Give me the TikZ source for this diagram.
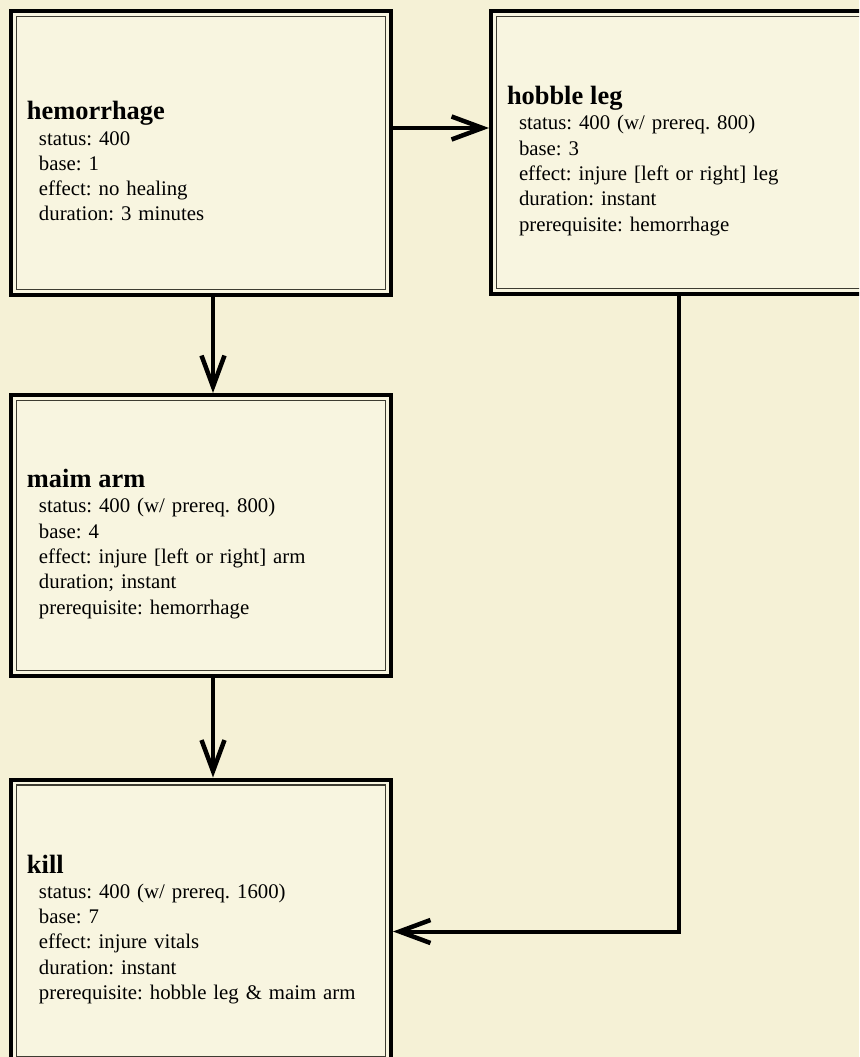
\documentclass[tikz,border=0pt]{standalone}
\usepackage{fontspec}
\setmainfont{Liberation Serif}
\usetikzlibrary{arrows.meta}
\frenchspacing

\definecolor{parchment}{RGB}{245,241,214}
\definecolor{cardfill}{RGB}{248,245,224}
\definecolor{innerrule}{RGB}{62,60,50}

\newcommand{\bodyind}{\hspace*{12pt}}
\newcommand{\cardtitle}[1]{\rule{0pt}{35pt}{\fontsize{26.4}{25.4}\selectfont\bfseries #1}}

\tikzset{
  card/.style={draw=black, line width=4pt, fill=cardfill, rectangle,
    outer sep=0pt, minimum width=380pt, text width=348pt, inner xsep=16pt,
    align=left, font=\fontsize{20.8}{25.3}\selectfont},
  innerline/.style={draw=innerrule, line width=1.3pt},
  link/.style={draw=black, line width=4pt,
    -{Straight Barb[length=31pt, width=23pt, line width=4.5pt]}, shorten >=2pt}
}

\begin{document}
\begin{tikzpicture}[x=1pt, y=-1pt]
  \useasboundingbox (0,0) rectangle (859,1057);
  \fill[parchment] (0,0) rectangle (859,1057);
  \clip (0,0) rectangle (859,1057);

  % skill cards
  \node[card, minimum height=284pt] (h) at (201,153) {%
    \cardtitle{hemorrhage}\\
    \bodyind status: 400\\
    \bodyind base: 1\\
    \bodyind effect: no healing\\
    \bodyind duration: 3 minutes};

  \node[card, minimum height=283pt] (hob) at (681,152.5) {%
    \cardtitle{hobble leg}\\
    \bodyind status: 400 (w/ prereq. 800)\\
    \bodyind base: 3\\
    \bodyind effect: injure [left or right] leg\\
    \bodyind duration: instant\\
    \bodyind prerequisite: hemorrhage};

  \node[card, minimum height=281pt] (maim) at (201,535.5) {%
    \cardtitle{maim arm}\\
    \bodyind status: 400 (w/ prereq. 800)\\
    \bodyind base: 4\\
    \bodyind effect: injure [left or right] arm\\
    \bodyind duration; instant\\
    \bodyind prerequisite: hemorrhage};

  \node[card, minimum height=283pt] (kill) at (201,921) {%
    \cardtitle{kill}\\
    \bodyind status: 400 (w/ prereq. 1600)\\
    \bodyind base: 7\\
    \bodyind effect: injure vitals\\
    \bodyind duration: instant\\
    \bodyind prerequisite: hobble leg \& maim arm};

  % inner rules of the double frames
  \foreach \n in {h,hob,maim,kill}
    \draw[innerline] ([shift={(5.5pt,-5.5pt)}]\n.north west)
      rectangle ([shift={(-5.5pt,5.5pt)}]\n.south east);

  % prerequisite links
  \coordinate (bend) at ([xshift=-2.5pt]hob.south |- 0,931.5);
  \draw[link] ([yshift=25pt]h.east) -- ([yshift=25pt]h.east -| hob.west);
  \draw[link] ([xshift=12pt]h.south) -- ([xshift=12pt]maim.north);
  \draw[link] ([xshift=12pt]maim.south) -- ([xshift=12pt]kill.north);
  \draw[link, line join=miter] ([xshift=-2.5pt]hob.south) -- (bend) -- (bend -| kill.east);
\end{tikzpicture}
\end{document}
